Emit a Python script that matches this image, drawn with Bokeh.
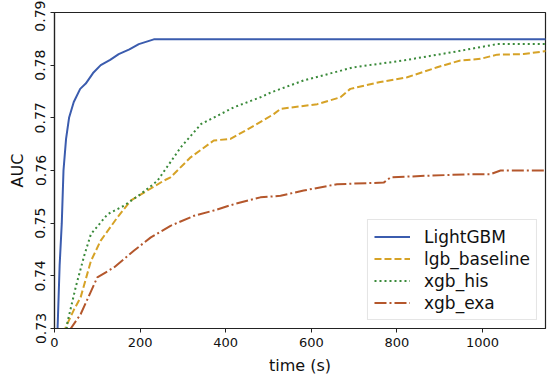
from bokeh.plotting import figure
from bokeh.models import Legend, LegendItem, FixedTicker, Range1d
from bokeh.embed import file_html
from bokeh.resources import INLINE

# --- data ---
lgbm_t = [5, 8, 12, 17, 21, 27, 34, 45, 60, 73, 90, 108, 130, 150, 175, 197, 232, 1150]
lgbm_auc = [0.725, 0.732, 0.742, 0.750, 0.760, 0.766, 0.770, 0.773, 0.7755, 0.7765,
            0.7785, 0.780, 0.781, 0.7821, 0.783, 0.784, 0.7849, 0.7849]

base_t = [24, 26, 45, 61, 85, 108, 147, 178, 217, 256, 271, 318, 372, 411, 466, 512,
          528, 614, 668, 691, 761, 824, 894, 948, 995, 1034, 1096, 1150]
base_auc = [0.729, 0.7302, 0.7335, 0.7359, 0.7428, 0.7467, 0.7511, 0.7543, 0.7562, 0.7581,
            0.7587, 0.7625, 0.7657, 0.7660, 0.7685, 0.7707, 0.7717, 0.7726, 0.7739, 0.7755,
            0.7768, 0.7777, 0.7796, 0.7809, 0.7812, 0.7820, 0.7821, 0.7827]

his_t = [27, 30, 50, 70, 85, 124, 162, 201, 240, 295, 342, 419, 481, 505, 582, 699,
         816, 932, 1034, 1150]
his_auc = [0.729, 0.7311, 0.7380, 0.7440, 0.7479, 0.7517, 0.7533, 0.7555, 0.7580, 0.7644,
           0.7688, 0.7720, 0.7739, 0.7748, 0.7771, 0.7796, 0.7809, 0.7825, 0.7840, 0.7840]

exa_t = [36, 38, 61, 100, 139, 186, 225, 271, 326, 372, 419, 481, 528, 582, 660, 769,
         785, 870, 971, 1018, 1042, 1150]
exa_auc = [0.7295, 0.7300, 0.7327, 0.7397, 0.7416, 0.7448, 0.7473, 0.7495, 0.7514, 0.7524,
           0.7536, 0.7549, 0.7552, 0.7562, 0.7574, 0.7577, 0.7587, 0.7590, 0.7593, 0.7593,
           0.7600, 0.7600]

y_ticks = [0.73, 0.74, 0.75, 0.76, 0.77, 0.78, 0.79]
x_ticks = [0, 200, 400, 600, 800, 1000]
series_names = ["LightGBM", "lgb_baseline", "xgb_his", "xgb_exa"]

FONT = "DejaVu Sans"

p = figure(width=547, height=378, output_backend="svg", toolbar_location=None,
           x_range=Range1d(0, 1147), y_range=Range1d(0.73, 0.79),
           min_border_left=54, min_border_right=2, min_border_top=12, min_border_bottom=50)

p.xgrid.visible = False
p.ygrid.visible = False
p.outline_line_color = "#222222"
p.outline_line_width = 1.2
p.background_fill_color = "white"
p.border_fill_color = "white"

for ax in (p.xaxis[0], p.yaxis[0]):
    ax.axis_line_color = "#222222"
    ax.axis_line_width = 1.2
    ax.major_tick_line_color = "#222222"
    ax.major_tick_out = 4
    ax.major_tick_in = 0
    ax.minor_tick_out = 0
    ax.minor_tick_in = 0
    ax.major_label_text_font = FONT
    ax.major_label_text_color = "#111111"
    ax.axis_label_text_font = FONT
    ax.axis_label_text_font_size = "16px"
    ax.axis_label_text_font_style = "normal"
    ax.axis_label_text_color = "#111111"

p.xaxis.major_label_text_font_size = "13px"
p.yaxis.major_label_text_font_size = "14px"
p.xaxis.ticker = FixedTicker(ticks=x_ticks)
p.yaxis.ticker = FixedTicker(ticks=y_ticks)
p.yaxis.major_label_orientation = "vertical"
p.xaxis.axis_label = "time (s)"
p.yaxis.axis_label = "AUC"
p.xaxis.axis_label_standoff = 6
p.yaxis.axis_label_standoff = 6

r1 = p.line(lgbm_t, lgbm_auc, line_color="#3b5cae", line_width=2)
r2 = p.line(base_t, base_auc, line_color="#d6a226", line_width=2, line_dash="7 3")
r3 = p.line(his_t, his_auc, line_color="#3a8a3a", line_width=2, line_dash="2 3")
r4 = p.line(exa_t, exa_auc, line_color="#b4572c", line_width=2, line_dash="12 3 2 3")

legend = Legend(items=[LegendItem(label=n, renderers=[r]) for n, r in
                       zip(series_names, [r1, r2, r3, r4])],
                location="bottom_right")
legend.label_text_font = FONT
legend.label_text_font_size = "17px"
legend.label_text_color = "#111111"
legend.glyph_width = 36
legend.glyph_height = 21
legend.label_height = 21
legend.label_standoff = 14
legend.spacing = 1
legend.padding = 6
legend.margin = 8
legend.border_line_color = "#cccccc"
legend.border_line_width = 1
legend.background_fill_alpha = 0.85
p.add_layout(legend)

open("out.html", "w").write(file_html(p, INLINE))
